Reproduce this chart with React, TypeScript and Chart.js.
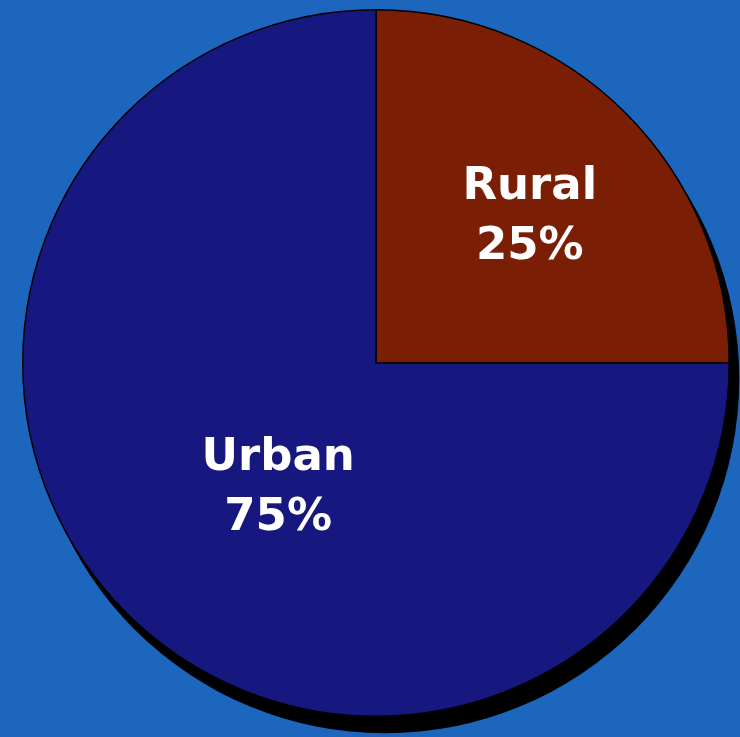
import React, { useEffect, useRef } from "react";
import { Chart, registerables } from "chart.js";

Chart.register(...registerables);

const categories = ["Rural", "Urban"];
const shares = [25, 75];
const valueLabels = ["25%", "75%"];
const sliceColors = ["#7a1f06", "#16187f"];

const BG = "#1c66be";

const shadowPlugin = {
  id: "pieShadow",
  beforeDatasetsDraw(chart: any) {
    const meta = chart.getDatasetMeta(0);
    const arc = meta.data[0];
    if (!arc) return;
    const { x, y, outerRadius } = arc.getProps(["x", "y", "outerRadius"], true);
    const ctx = chart.ctx;
    ctx.save();
    ctx.fillStyle = "#000000";
    ctx.beginPath();
    ctx.arc(x + 9, y + 16, outerRadius + 1, 0, Math.PI * 2);
    ctx.fill();
    ctx.restore();
  },
};

const labelPlugin = {
  id: "sliceLabels",
  afterDatasetsDraw(chart: any) {
    const meta = chart.getDatasetMeta(0);
    const ctx = chart.ctx;
    const radiusFrac = [0.6, 0.45];
    const angleShift = [1.5, -7];
    ctx.save();
    ctx.fillStyle = "#ffffff";
    ctx.textAlign = "center";
    ctx.textBaseline = "middle";
    ctx.font = "bold 45px 'DejaVu Sans'";
    meta.data.forEach((arc: any, i: number) => {
      const p = arc.getProps(["x", "y", "startAngle", "endAngle", "outerRadius"], true);
      const mid = (p.startAngle + p.endAngle) / 2 + (angleShift[i] * Math.PI) / 180;
      const r = p.outerRadius * radiusFrac[i];
      const cx = p.x + Math.cos(mid) * r;
      const cy = p.y + Math.sin(mid) * r;
      ctx.fillText(categories[i], cx, cy - 30);
      ctx.fillText(valueLabels[i], cx, cy + 30);
    });
    ctx.restore();
  },
};

export default function App() {
  const ref = useRef<HTMLCanvasElement | null>(null);
  useEffect(() => {
    if (!ref.current) return;
    const chart = new Chart(ref.current, {
      type: "pie",
      data: {
        labels: categories,
        datasets: [
          {
            data: shares,
            backgroundColor: sliceColors,
            borderColor: "#000000",
            borderWidth: 1.5,
          },
        ],
      },
      options: {
        animation: false,
        responsive: false,
        layout: { padding: { left: 22, right: 10, top: 9, bottom: 20 } },
        plugins: {
          legend: { display: false },
          tooltip: { enabled: false },
        },
      },
      plugins: [shadowPlugin, labelPlugin],
    });
    return () => chart.destroy();
  }, []);
  return (
    <div
      style={{
        position: "fixed",
        left: 0,
        top: 0,
        width: 740,
        height: 737,
        background: BG,
      }}
    >
      <canvas ref={ref} width={740} height={737} style={{ display: "block" }} />
    </div>
  );
}
